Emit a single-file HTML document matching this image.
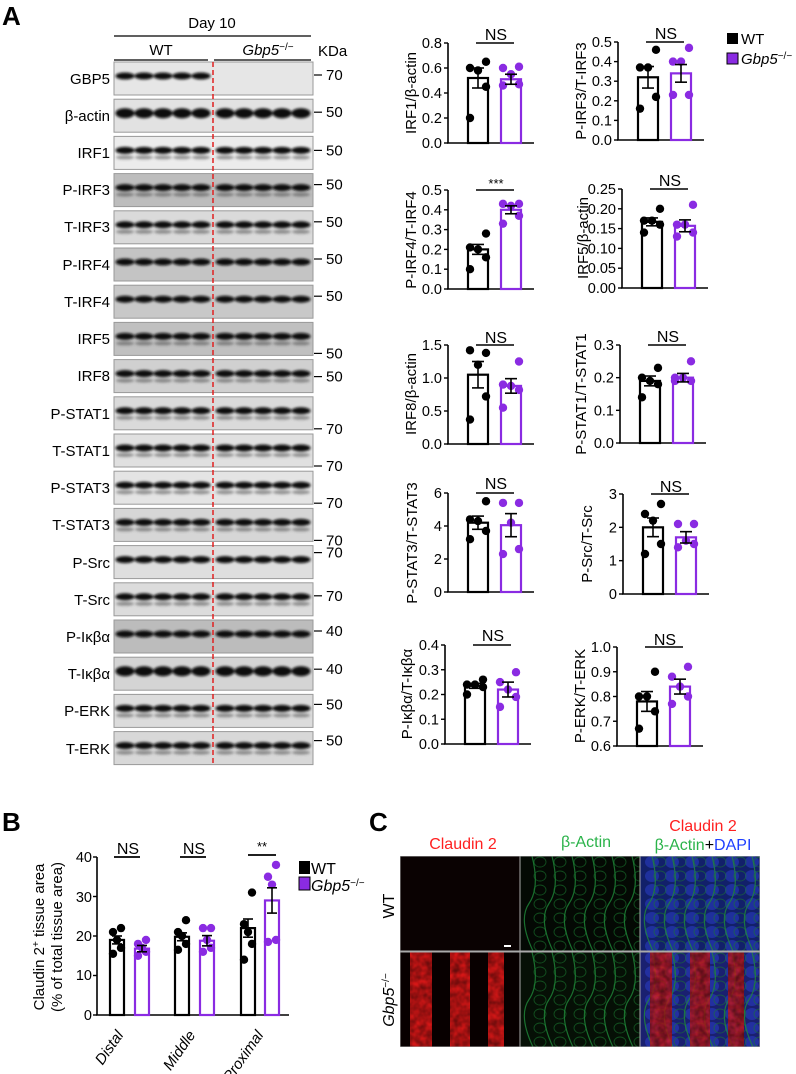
<!DOCTYPE html>
<html><head><meta charset="utf-8"><style>
body{margin:0;background:#fff;}
svg{display:block;font-family:"Liberation Sans",Arial,sans-serif;}
</style></head><body>
<svg id="s" width="796" height="1074" viewBox="0 0 796 1074" xmlns="http://www.w3.org/2000/svg">
<defs>
<filter id="bl" x="-20%" y="-50%" width="140%" height="200%"><feGaussianBlur stdDeviation="1.3"/></filter>
<filter id="tx" x="0" y="0" width="100%" height="100%"><feTurbulence type="fractalNoise" baseFrequency="0.15" numOctaves="2" seed="3"/><feColorMatrix type="matrix" values="0 0 0 0 0  0 0 0 0 0  0 0 0 0 0  0 0 0 -1.2 1"/></filter>
<clipPath id="cc"><rect x="400" y="856" width="360" height="191"/></clipPath>
</defs>
<g id="blots"></g>
<g id="charts"></g>
<g font-size="15">
<text x="2" y="25" font-size="26" font-weight="bold">A</text>
<text x="212" y="28" text-anchor="middle" font-size="15">Day 10</text>
<line x1="114" y1="36" x2="311" y2="36" stroke="#000" stroke-width="1.2"/>
<text x="161" y="55" text-anchor="middle" font-size="15">WT</text>
<text x="268" y="55" text-anchor="middle" font-size="15" font-style="italic">Gbp5<tspan dy="-5" font-size="10" font-style="normal">−/−</tspan></text>
<line x1="114" y1="60" x2="208" y2="60" stroke="#000" stroke-width="1.2"/>
<line x1="214" y1="60" x2="311" y2="60" stroke="#000" stroke-width="1.2"/>
<text x="318" y="56" font-size="15">KDa</text>
</g>
<g font-size="15" text-anchor="end">
<text x="110" y="84">GBP5</text><text x="110" y="121">β-actin</text><text x="110" y="158">IRF1</text><text x="110" y="195">P-IRF3</text><text x="110" y="232">T-IRF3</text><text x="110" y="270">P-IRF4</text><text x="110" y="307">T-IRF4</text><text x="110" y="344">IRF5</text><text x="110" y="381">IRF8</text><text x="110" y="419">P-STAT1</text><text x="110" y="456">T-STAT1</text><text x="110" y="493">P-STAT3</text><text x="110" y="530">T-STAT3</text><text x="110" y="568">P-Src</text><text x="110" y="605">T-Src</text><text x="110" y="642">P-Iκβα</text><text x="110" y="679">T-Iκβα</text><text x="110" y="716">P-ERK</text><text x="110" y="754">T-ERK</text>
</g>
<g font-size="15" id="kda">
<text x="326">70</text><text x="326">50</text><text x="326">50</text><text x="326">50</text><text x="326">50</text><text x="326">50</text><text x="326">50</text><text x="326">50</text><text x="326">50</text><text x="326">70</text><text x="326">70</text><text x="326">70</text><text x="326">70</text><text x="326">70</text><text x="326">70</text><text x="326">40</text><text x="326">40</text><text x="326">50</text><text x="326">50</text>
</g>
<g font-size="14.5" text-anchor="end" id="ticks"></g>
<g font-size="15" text-anchor="middle">
<text transform="translate(416,93) rotate(-90)">IRF1/β-actin</text>
<text transform="translate(586,91) rotate(-90)">P-IRF3/T-IRF3</text>
<text transform="translate(416,240) rotate(-90)">P-IRF4/T-IRF4</text>
<text transform="translate(588,238) rotate(-90)">IRF5/β-actin</text>
<text transform="translate(416,394) rotate(-90)">IRF8/β-actin</text>
<text transform="translate(586,394) rotate(-90)">P-STAT1/T-STAT1</text>
<text transform="translate(417,543) rotate(-90)">P-STAT3/T-STAT3</text>
<text transform="translate(592,544) rotate(-90)">P-Src/T-Src</text>
<text transform="translate(412,694) rotate(-90)">P-Iκβα/T-Iκβα</text>
<text transform="translate(585,696) rotate(-90)">P-ERK/T-ERK</text>
</g>
<g font-size="16" text-anchor="middle" id="ns">
<text x="496" y="40">NS</text><text x="666" y="39">NS</text>
<text x="496" y="188" font-size="13">***</text><text x="670" y="186">NS</text>
<text x="496" y="343">NS</text><text x="668" y="342">NS</text>
<text x="496" y="489">NS</text><text x="671" y="492">NS</text>
<text x="493" y="641">NS</text><text x="665" y="645">NS</text>
</g>
<rect x="727" y="33" width="11" height="11" fill="#000"/>
<text x="741" y="44" font-size="15">WT</text>
<rect x="727" y="53" width="11" height="11" fill="#8a2be2" stroke="#000" stroke-width="1"/>
<text x="741" y="64" font-size="15" font-style="italic">Gbp5<tspan dy="-5" font-size="10" font-style="normal">−/−</tspan></text>

<text x="2" y="831" font-size="26" font-weight="bold">B</text>
<g id="bchart"></g>
<g font-size="14.5" text-anchor="end">
<text x="92" y="862">40</text><text x="92" y="902">30</text><text x="92" y="941">20</text><text x="92" y="980">10</text><text x="92" y="1020">0</text>
</g>
<text transform="translate(44,937) rotate(-90)" font-size="15" text-anchor="middle">Claudin 2<tspan dy="-5" font-size="10">+</tspan><tspan dy="5"> tissue area</tspan></text>
<text transform="translate(62,937) rotate(-90)" font-size="15" text-anchor="middle">(% of total tissue area)</text>
<g font-size="16" text-anchor="middle">
<text x="128" y="854">NS</text><text x="194" y="854">NS</text><text x="262" y="851" font-size="13">**</text>
</g>
<g font-size="15" font-style="italic" text-anchor="end">
<text transform="translate(124,1035) rotate(-55)">Distal</text>
<text transform="translate(196,1035) rotate(-55)">Middle</text>
<text transform="translate(264,1035) rotate(-55)">Proximal</text>
</g>
<rect x="299" y="861" width="11" height="13" fill="#000"/>
<text x="311" y="874" font-size="16">WT</text>
<rect x="299" y="877" width="11" height="13" fill="#8a2be2" stroke="#000"/>
<text x="311" y="891" font-size="16" font-style="italic">Gbp5<tspan dy="-5" font-size="10" font-style="normal">−/−</tspan></text>

<text x="369" y="831" font-size="26" font-weight="bold">C</text>
<g font-size="16" text-anchor="middle">
<text x="463" y="849" fill="#ff2020">Claudin 2</text>
<text x="586" y="847" fill="#2bb34a">β-Actin</text>
<text x="703" y="831" fill="#ff2020">Claudin 2</text>
<text x="703" y="850"><tspan fill="#2bb34a">β-Actin</tspan><tspan fill="#000">+</tspan><tspan fill="#2040ff">DAPI</tspan></text>
</g>
<text transform="translate(394,906) rotate(-90)" font-size="16" text-anchor="middle">WT</text>
<text transform="translate(394,1000) rotate(-90)" font-size="16" text-anchor="middle" font-style="italic">Gbp5<tspan dy="-5" font-size="10" font-style="normal">−/−</tspan></text>
<g id="micro" clip-path="url(#cc)"></g>
</svg>
<script>
const NS="http://www.w3.org/2000/svg";
function el(p,t,a){const e=document.createElementNS(NS,t);for(const k in a)e.setAttribute(k,a[k]);p.appendChild(e);return e;}
const B=document.getElementById('blots');
const bg=['#e6e6e6','#e2e2e2','#ececec','#bdbdbd','#dadada','#c4c4c4','#c8c8c8','#c0c0c0','#d0d0d0','#dadada','#e0e0e0','#e4e4e4','#d6d6d6','#dedede','#dcdcdc','#bcbcbc','#d4d4d4','#dcdcdc','#d8d8d8'];
const nb=[1,1,2,2,2,1,1,2,2,2,2,2,2,1,2,1,1,2,2];
const kof=[13,13,14,11,11,11,11,31,17,32,32,32,32,7,13,11,12,10,9];
const lanes=[125,144,163,182,201,225,244,263,282,301];
for(let i=0;i<19;i++){
 const y=62+i*37.2;
 el(B,'rect',{x:114,y:y,width:199,height:33,fill:bg[i],stroke:'#999','stroke-width':1});
 const g=el(B,'g',{filter:'url(#bl)'});
 lanes.forEach((lx,j)=>{
  if(i==0&&j>=5)return;
  const th=(i==1||i==16)?9:6;
  el(g,'ellipse',{cx:lx,cy:y+14,rx:9.5,ry:th/2+0.5,fill:'#0a0a0a'});
  if(nb[i]==2) el(g,'ellipse',{cx:lx,cy:y+21,rx:9,ry:2,fill:'#444','opacity':0.5});
 });
 const ky=y+kof[i];
 el(B,'line',{x1:314,y1:ky,x2:322,y2:ky,stroke:'#000','stroke-width':1.2});
}
el(B,'line',{x1:213,y1:62,x2:213,y2:766,stroke:'#e02020','stroke-width':1.5,'stroke-dasharray':'5,3'});
document.querySelectorAll('#kda text').forEach((t,i)=>{const y=62+i*37.2;t.setAttribute('y',y+kof[i]+5);});
const C=document.getElementById('charts'),T=document.getElementById('ticks');
const P='#8a2be2';
const charts=[
[448,43,143,0,0.8,0.2,1,.52,.08,[.2,.45,.58,.6,.65],.51,.04,[.46,.47,.55,.6,.61]],
[618,42,140,0,0.5,0.1,1,.32,.055,[.16,.22,.37,.37,.46],.34,.045,[.23,.23,.40,.40,.47]],
[448,190,289,0,0.5,0.1,1,.2,.025,[.10,.16,.20,.21,.28],.40,.02,[.33,.37,.42,.43,.43]],
[622,189,288,0,0.25,0.05,2,.167,.01,[.14,.16,.17,.17,.20],.157,.015,[.13,.14,.16,.16,.21]],
[448,345,444,0,1.5,0.5,1,1.05,.2,[.37,.72,1.2,1.42,1.38],.88,.11,[.55,.82,.88,.9,1.25]],
[620,345,443,0,0.3,0.1,1,.19,.015,[.14,.18,.19,.2,.23],.2,.013,[.19,.19,.2,.2,.25]],
[448,493,592,0,6,2,0,4.2,.4,[3.2,3.7,4.3,4.4,5.5],4.05,.7,[2.3,2.6,4.2,5.4,5.4]],
[623,494,594,0,3,1,0,2.0,.28,[1.2,1.5,2.2,2.4,2.7],1.7,.17,[1.4,1.5,1.6,2.1,2.1]],
[445,645,744,0,0.4,0.1,1,.235,.01,[.2,.23,.24,.24,.26],.22,.03,[.15,.19,.22,.25,.29]],
[617,647,746,0.6,1.0,0.1,1,.78,.04,[.67,.74,.8,.8,.9],.84,.03,[.77,.8,.84,.88,.92]]];
const offs=[-8,8,0,-8,8];
charts.forEach(c=>{
 const [ax,top,bot,mn,mx,st,dec,wm,ws,wp,km,ks,kp]=c;
 const Y=v=>bot-(v-mn)/(mx-mn)*(bot-top);
 el(C,'line',{x1:ax,y1:top,x2:ax,y2:bot,stroke:'#000','stroke-width':1.6});
 el(C,'line',{x1:ax-1,y1:bot,x2:ax+86,y2:bot,stroke:'#000','stroke-width':1.6});
 for(let v=mn;v<=mx+1e-9;v+=st){const y=Y(v);el(C,'line',{x1:ax-4,y1:y,x2:ax,y2:y,stroke:'#000','stroke-width':1.4});
  const t=el(T,'text',{x:ax-6,y:y+5});t.textContent=v.toFixed(dec);}
 el(C,'line',{x1:ax+28,y1:top,x2:ax+66,y2:top,stroke:'#000','stroke-width':1.6});
 [[19,wm,ws,wp,'#000'],[52,km,ks,kp,P]].forEach(([o,m,s,p,col])=>{
  el(C,'rect',{x:ax+o+1,y:Y(m),width:20,height:bot-Y(m),fill:'#fff',stroke:col,'stroke-width':2.2});
  const cx=ax+o+11;
  p.forEach((v,i)=>el(C,'circle',{cx:cx+offs[i],cy:Y(v),r:4.2,fill:col}));
  el(C,'line',{x1:cx,y1:Y(m-s),x2:cx,y2:Y(m+s),stroke:'#000','stroke-width':1.6});
  el(C,'line',{x1:cx-6,y1:Y(m-s),x2:cx+6,y2:Y(m-s),stroke:'#000','stroke-width':1.6});
  el(C,'line',{x1:cx-6,y1:Y(m+s),x2:cx+6,y2:Y(m+s),stroke:'#000','stroke-width':1.6});
 });
});
const BC=document.getElementById('bchart');
const BY=v=>1015-v/40*(1015-857);
el(BC,'line',{x1:97,y1:857,x2:97,y2:1015,stroke:'#000','stroke-width':1.6});
el(BC,'line',{x1:96,y1:1015,x2:289,y2:1015,stroke:'#000','stroke-width':1.6});
[0,10,20,30,40].forEach(v=>el(BC,'line',{x1:93,y1:BY(v),x2:97,y2:BY(v),stroke:'#000','stroke-width':1.4}));
[[114,140,857],[180,206,857],[248,276,855]].forEach(([a,b,y])=>el(BC,'line',{x1:a,y1:y,x2:b,y2:y,stroke:'#000','stroke-width':1.8}));
const bd=[[109,19,1,[15.5,17,19,21,22],'#000'],[134,16.8,.8,[15,16,17,18,19],P],
[174,19.8,1,[16.5,18,20,21,24],'#000'],[199,18.8,1.3,[16,17,19,22,22],P],
[240,22,2.3,[14,18,21,23,31],'#000'],[264,29,3.2,[18.5,19,33,35,38],P]];
bd.forEach(([x,m,s,p,col])=>{
 el(BC,'rect',{x:x+1,y:BY(m),width:14,height:1015-BY(m),fill:'#fff',stroke:col,'stroke-width':2.2});
 const cx=x+8;
 p.forEach((v,i)=>el(BC,'circle',{cx:cx+[-4,4,0,-4,4][i],cy:BY(v),r:4.2,fill:col}));
 [[cx,BY(m-s),cx,BY(m+s)],[cx-5,BY(m-s),cx+5,BY(m-s)],[cx-5,BY(m+s),cx+5,BY(m+s)]].forEach(l=>el(BC,'line',{x1:l[0],y1:l[1],x2:l[2],y2:l[3],stroke:'#000','stroke-width':1.6}));
});
const M=document.getElementById('micro');
const xs=[400,520,640],ys=[856,952],w=120,h=95;
const fills=[['#0a0202','#040904','#12206a'],['#080000','#061006','#1a2070']];
for(let r=0;r<2;r++)for(let c=0;c<3;c++){
 const x=xs[c],y=ys[r];
 const g=el(M,'g',{});
 const cp=el(g,'clipPath',{id:'c'+r+c});el(cp,'rect',{x:x,y:y,width:w,height:h});
 const gi=el(g,'g',{'clip-path':'url(#c'+r+c+')'});
 el(gi,'rect',{x:x,y:y,width:w,height:h,fill:fills[r][c]});
 if(c==2){for(let k=0;k<6;k++)for(let j=0;j<7;j++)el(gi,'ellipse',{cx:x+12+k*20,cy:y+6+j*14,rx:7,ry:6,fill:'#2b3fd0',opacity:0.5});}
 if(c>0){
  for(let k=0;k<6;k++){const lx=x+12+k*20;
   el(gi,'path',{d:`M${lx},${y} q8,${h/3} -3,${h/2} t4,${h/2}`,stroke:'#1f8a3a',fill:'none','stroke-width':1.2,opacity:0.8});
   for(let j=0;j<7;j++)el(gi,'ellipse',{cx:lx+8,cy:y+6+j*14,rx:6,ry:5,fill:'none',stroke:'#1a7a30','stroke-width':0.9,opacity:0.6});}
 }
 if(r==1&&(c==0||c==2)){
  [[x+10,22],[x+50,20],[x+88,16]].forEach(([sx,sw])=>{
   el(gi,'rect',{x:sx,y:y,width:sw,height:h,fill:'#e01818',opacity:c==0?0.95:0.75});
   el(gi,'rect',{x:sx,y:y,width:sw,height:h,fill:'#300',filter:'url(#tx)',opacity:0.6});
  });
 }
 el(g,'rect',{x:x,y:y,width:w,height:h,fill:'none',stroke:'#aaa','stroke-width':1});
}
el(M,'rect',{x:504,y:945,width:7,height:2,fill:'#fff'});
</script>
</body></html>
